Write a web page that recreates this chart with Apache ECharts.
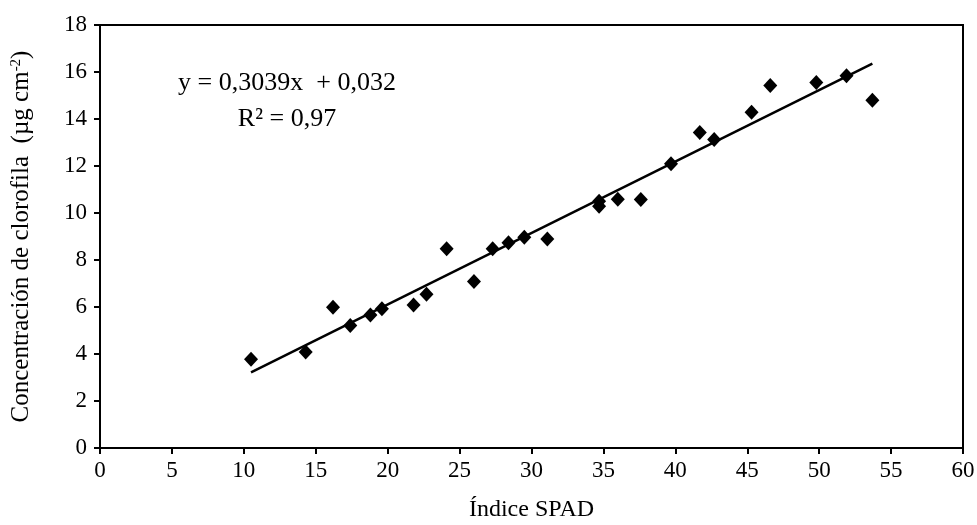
<!DOCTYPE html>
<html>
<head>
<meta charset="utf-8">
<script src="https://cdn.jsdelivr.net/npm/echarts@6/dist/echarts.min.js"></script>
<style>
  html, body { margin: 0; padding: 0; background: #fff; }
  #chart { width: 977px; height: 525px; }
</style>
</head>
<body>
<div id="chart"></div>
<script>
// Índice SPAD (x) vs clorofila (y)
const spad = [10.5, 14.3, 16.2, 17.4, 18.8, 19.6, 21.8, 22.7, 24.1, 26.0, 27.3, 28.4, 29.5,
  31.1, 34.7, 34.7, 36.0, 37.6, 39.7, 41.7, 42.7, 45.3, 46.6, 49.8, 51.9, 53.7];
const clorofila = [3.78, 4.08, 5.99, 5.21, 5.66, 5.93, 6.08, 6.54, 8.48, 7.09, 8.48, 8.73, 8.97,
  8.89, 10.50, 10.29, 10.59, 10.57, 12.10, 13.43, 13.13, 14.29, 15.43, 15.55, 15.84, 14.80];
// recta de ajuste: y = 0,3039x + 0,032
const slope = 0.3039;
const intercept = 0.032;
const xTicks = [0, 60, 5];   // min, max, intervalo
const yTicks = [0, 18, 2];

const font = 'Liberation Serif';
const chart = echarts.init(document.getElementById('chart'));

const puntos = spad.map((x, i) => [x, clorofila[i]]);
const xMin = Math.min(...spad), xMax = Math.max(...spad);
const recta = [[xMin, slope * xMin + intercept], [xMax, slope * xMax + intercept]];

const option = {
  animation: false,
  backgroundColor: '#fff',
  grid: {
    left: 100, right: 14, top: 25, bottom: 77,
    outerBoundsMode: 'none',
    containLabel: false,
    show: true,
    borderColor: '#000',
    borderWidth: 2
  },
  xAxis: {
    type: 'value',
    min: xTicks[0], max: xTicks[1], interval: xTicks[2],
    name: 'Índice SPAD',
    nameLocation: 'middle',
    nameGap: 50,
    nameTextStyle: { fontFamily: font, fontSize: 24, color: '#000' },
    axisLine: { show: true, onZero: false, lineStyle: { color: '#000', width: 2 } },
    axisTick: { show: true, inside: false, length: 6, lineStyle: { color: '#000', width: 2 } },
    axisLabel: { fontFamily: font, fontSize: 23, color: '#000', margin: 11 },
    splitLine: { show: false }
  },
  yAxis: {
    type: 'value',
    min: yTicks[0], max: yTicks[1], interval: yTicks[2],
    name: '{n|Concentración de clorofila  (µg cm}{s|-2}{n|)}',
    nameLocation: 'middle',
    nameGap: 66,
    nameTextStyle: {
      fontFamily: font, fontSize: 25, color: '#000',
      rich: {
        n: { fontFamily: font, fontSize: 25, color: '#000' },
        s: { fontFamily: font, fontSize: 15, color: '#000', verticalAlign: 'top' }
      }
    },
    axisLine: { show: true, onZero: false, lineStyle: { color: '#000', width: 2 } },
    axisTick: { show: true, inside: false, length: 6, lineStyle: { color: '#000', width: 2 } },
    axisLabel: { fontFamily: font, fontSize: 23, color: '#000', margin: 13 },
    splitLine: { show: false }
  },
  graphic: [{
    type: 'text',
    x: 287,
    y: 65,
    style: {
      text: 'y = 0,3039x  + 0,032\nR² = 0,97',
      fontFamily: font,
      fontSize: 26,
      lineHeight: 36,
      fill: '#000',
      align: 'center',
      verticalAlign: 'top'
    }
  }],
  series: [
    {
      type: 'line',
      data: recta,
      showSymbol: false,
      symbol: 'none',
      lineStyle: { color: '#000', width: 2.5 },
      z: 2
    },
    {
      type: 'scatter',
      data: puntos,
      symbol: 'diamond',
      symbolSize: [14, 15],
      itemStyle: { color: '#000', opacity: 1 },
      z: 3
    }
  ]
};
chart.setOption(option);
</script>
</body>
</html>
